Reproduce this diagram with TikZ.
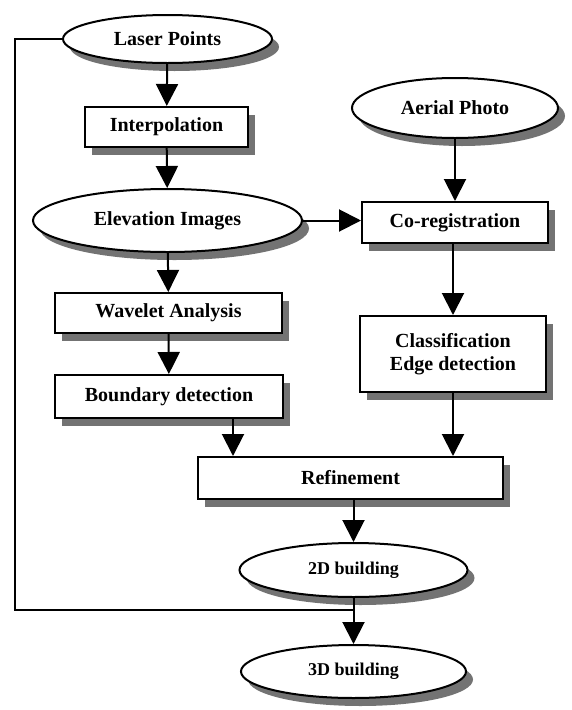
\documentclass[tikz,border=0pt]{standalone}
\usepackage{fontspec}
\setmainfont{Liberation Serif}
\usetikzlibrary{shapes.geometric,shadows,arrows.meta}
\begin{document}
\begin{tikzpicture}[x=1pt,y=-1pt,
  base/.style={draw=black, line width=2pt, fill=white, inner sep=0pt, align=center,
    font=\fontsize{20}{23}\selectfont\bfseries,
    drop shadow={shadow xshift=7pt, shadow yshift=-8pt, fill=black!55, opacity=1}},
  oval/.style={base, ellipse},
  boxn/.style={base, rectangle},
  conn/.style={line width=2pt, -{Triangle[length=22pt,width=22pt]}},
  plainline/.style={line width=2pt}]
\useasboundingbox[fill=white] (0,0) rectangle (572,710);

\node[oval, minimum width=209pt, minimum height=48pt] (laser) at (167.5,39) {Laser Points};
\node[boxn, minimum width=163pt, minimum height=40pt] (interp) at (166.5,127) {Interpolation};
\node[oval, minimum width=269pt, minimum height=63pt] (elev) at (167.5,220.5) {Elevation Images};
\node[oval, minimum width=206pt, minimum height=60pt] (aerial) at (455,108) {Aerial Photo};
\node[boxn, minimum width=186pt, minimum height=41pt] (coreg) at (455,222.5) {Co-registration};
\node[boxn, minimum width=227pt, minimum height=40pt] (wavelet) at (168.5,313) {Wavelet Analysis};
\node[boxn, minimum width=228pt, minimum height=43pt] (boundary) at (169,396.5) {Boundary detection};
\node[boxn, minimum width=186pt, minimum height=76pt] (classif) at (453,354) {Classification\\Edge detection};
\node[boxn, minimum width=305pt, minimum height=42pt] (refine) at (350.5,478) {Refinement};
\node[oval, minimum width=228pt, minimum height=54pt, font=\fontsize{18}{21}\selectfont\bfseries] (b2d) at (353.5,570) {2D building};
\node[oval, minimum width=225pt, minimum height=53pt, font=\fontsize{18}{21}\selectfont\bfseries] (b3d) at (353.5,671.5) {3D building};

\coordinate (bx) at (233,0);
\coordinate (lc) at (15,610);
\coordinate (join) at (353.5,610);

\draw[conn] (laser) -- (interp);
\draw[conn] (interp) -- (elev);
\draw[conn] (elev.east) -- (coreg.west |- elev.east);
\draw[conn] (aerial) -- (coreg);
\draw[conn] (elev) -- (wavelet);
\draw[conn] (wavelet) -- (boundary);
\draw[conn] (coreg.south -| classif.north) -- (classif.north);
\draw[conn] (boundary.south -| bx) -- (refine.north -| bx);
\draw[conn] (classif.south) -- (refine.north -| classif.south);
\draw[conn] (refine.south -| b2d.north) -- (b2d.north);
\draw[conn] (b2d) -- (b3d);
\draw[plainline] (laser.west) -| (lc) -- (join);
\end{tikzpicture}
\end{document}
